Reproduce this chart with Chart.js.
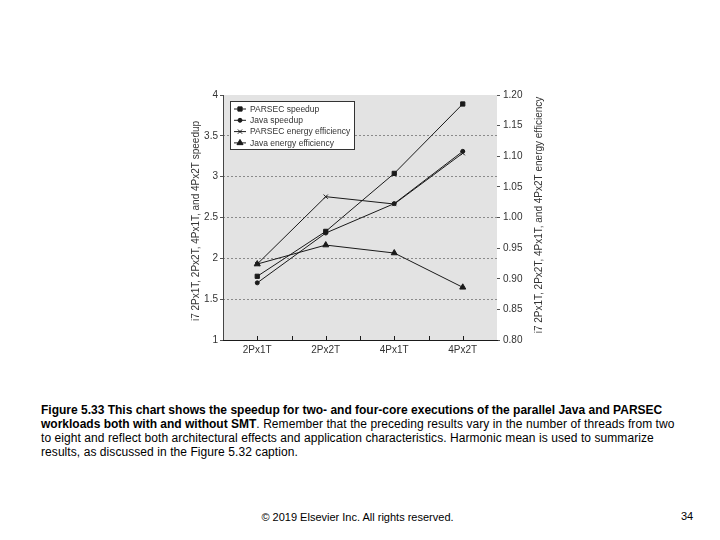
<!DOCTYPE html>
<html>
<head>
<meta charset="utf-8">
<script src="https://cdn.jsdelivr.net/npm/chart.js@4.4.0/dist/chart.umd.min.js"></script>
<style>
body{margin:0;background:#fff;width:720px;height:540px;position:relative;overflow:hidden;font-family:"Liberation Sans",Arial,sans-serif;}
#wrap{position:absolute;left:180px;top:85px;width:380px;height:280px;}
#caption{position:absolute;left:41px;top:403px;width:670px;font-size:12px;line-height:14px;color:#000;letter-spacing:0.07px;}
#caption b{letter-spacing:0;}
#copy{position:absolute;left:0;width:715px;top:511px;text-align:center;font-size:11px;color:#000;}
#page{position:absolute;left:681px;top:510px;font-size:11px;color:#000;}
</style>
</head>
<body>
<div id="wrap"><canvas id="chart"></canvas></div>
<div id="caption"><b>Figure 5.33 This chart shows the speedup for two- and four-core executions of the parallel Java and PARSEC<br>workloads both with and without SMT</b>. Remember that the preceding results vary in the number of threads from two<br>to eight and reflect both architectural effects and application characteristics. Harmonic mean is used to summarize<br>results, as discussed in the Figure 5.32 caption.</div>
<div id="copy">© 2019 Elsevier Inc. All rights reserved.</div>
<div id="page">34</div>
<script>

const categories = ["2Px1T","2Px2T","4Px1T","4Px2T"];

const parsecSpeedup = [1.78,2.33,3.04,3.89];
const javaSpeedup = [1.70,2.31,2.67,3.31];
const parsecEnergy = [0.924,1.034,1.022,1.105];
const javaEnergy = [0.924,0.955,0.942,0.886];

const leftTicks = [1,1.5,2,2.5,3,3.5,4];
const rightTicks = [0.80,0.85,0.90,0.95,1.00,1.05,1.10,1.15,1.20];

const leftTitle = "i7 2Px1T, 2Px2T, 4Px1T, and 4Px2T speedup";
const rightTitle = "i7 2Px1T, 2Px2T, 4Px1T, and 4Px2T energy efficiency";

const lineColor = "#1a1a1a";
const textColor = "#333";
const font = "\"Liberation Sans\", Arial, sans-serif";

/* gray plot area, axis titles, legend */
const extras = {
id:"extras",
beforeDraw(chart){
const a = chart.chartArea;
const ctx = chart.ctx;
ctx.save();
ctx.fillStyle = "#e3e3e3";
ctx.fillRect(a.left,a.top,a.right-a.left,a.bottom-a.top);
ctx.restore();
},
afterDraw(chart){
const a = chart.chartArea;
const ctx = chart.ctx;
const x = chart.scales.x;
ctx.save();

/* left frame line */
ctx.strokeStyle = "#444";
ctx.lineWidth = 1;
ctx.beginPath();
ctx.moveTo(Math.round(a.left)+0.5,a.top);
ctx.lineTo(Math.round(a.left)+0.5,a.bottom);
ctx.stroke();

/* x ticks inside at categories and between them */
ctx.strokeStyle = lineColor;
for(let i=-0.5;i<categories.length;i+=0.5){
const px = Math.round(x.getPixelForValue(i))+0.5;
if(px <= a.left+1 || px >= a.right-1) continue;
ctx.beginPath();
ctx.moveTo(px,a.bottom);
ctx.lineTo(px,a.bottom-4);
ctx.stroke();
}

/* titles */
ctx.fillStyle = textColor;
ctx.font = "10px " + font;
ctx.textAlign = "center";
ctx.textBaseline = "middle";
ctx.translate(16,136);
ctx.rotate(-Math.PI/2);
ctx.fillText(leftTitle,0,0);
ctx.setTransform(1,0,0,1,0,0);
ctx.translate(359,130);
ctx.rotate(-Math.PI/2);
ctx.fillText(rightTitle,0,0);
ctx.setTransform(1,0,0,1,0,0);

/* legend */
const lx = a.left+7, ly = a.top+6;
ctx.fillStyle = "#fff";
ctx.fillRect(lx,ly,124,48);
ctx.strokeStyle = "#333";
ctx.strokeRect(lx+0.5,ly+0.5,124,48);
ctx.textAlign = "left";
ctx.font = "8.5px " + font;
chart.data.datasets.forEach((ds,i)=>{
const yy = ly+8+i*11.3;
ctx.strokeStyle = lineColor;
ctx.fillStyle = lineColor;
ctx.beginPath();
ctx.moveTo(lx+4,yy);
ctx.lineTo(lx+16,yy);
ctx.stroke();
Chart.helpers.drawPoint(ctx,{
pointStyle:ds.pointStyle,
radius:ds.pointRadius,
borderWidth:1
},lx+10,yy);
ctx.fillStyle = textColor;
ctx.fillText(ds.label,lx+20,yy+0.5);
});
ctx.restore();
}
};

function series(label,data,axis,style,radius){
return {
label:label,
data:data,
yAxisID:axis,
borderColor:lineColor,
backgroundColor:lineColor,
borderWidth:1,
pointStyle:style,
pointRadius:radius,
pointBorderColor:lineColor,
pointBackgroundColor:lineColor,
pointBorderWidth:1,
tension:0
};
}

new Chart(
document.getElementById("chart"),
{
type:"line",
data:{
labels:categories,
datasets:[
series("PARSEC speedup",parsecSpeedup,"y","rect",3),
series("Java speedup",javaSpeedup,"y","circle",2),
series("PARSEC energy efficiency",parsecEnergy,"y1","crossRot",3),
series("Java energy efficiency",javaEnergy,"y1","triangle",3.5)
]
},
options:{
responsive:true,
maintainAspectRatio:false,
animation:false,
layout:{padding:{top:10,left:0,right:0,bottom:0}},
plugins:{
legend:{display:false},
tooltip:{enabled:false}
},
scales:{
x:{
offset:true,
afterFit(s){ s.height = 25; },
grid:{
offset:true,
drawOnChartArea:false,
drawTicks:false
},
border:{display:true,color:lineColor,width:1},
ticks:{
color:textColor,
padding:4,
font:{family:font,size:10}
}
},
y:{
position:"left",
min:1,
max:4,
afterFit(s){ s.width = 43; },
afterBuildTicks(s){ s.ticks = leftTicks.map(v=>({value:v})); },
grid:{
color:c=>(c.tick && (c.tick.value===1 || c.tick.value===4)) ? "rgba(0,0,0,0)" : "#8a8a8a",
tickLength:3,
tickColor:"#555",
tickBorderDash:[],
drawOnChartArea:true
},
border:{display:false,dash:[2,2]},
ticks:{
color:textColor,
padding:2,
font:{family:font,size:10},
callback:v=>String(v)
}
},
y1:{
position:"right",
min:0.80,
max:1.20,
afterFit(s){ s.width = 63; },
afterBuildTicks(s){ s.ticks = rightTicks.map(v=>({value:v})); },
grid:{
drawOnChartArea:false,
tickLength:3,
tickColor:"#555"
},
border:{display:false},
ticks:{
color:textColor,
padding:3,
font:{family:font,size:10},
callback:v=>Number(v).toFixed(2)
}
}
}
},
plugins:[extras]
}
);

</script>
</body>
</html>
